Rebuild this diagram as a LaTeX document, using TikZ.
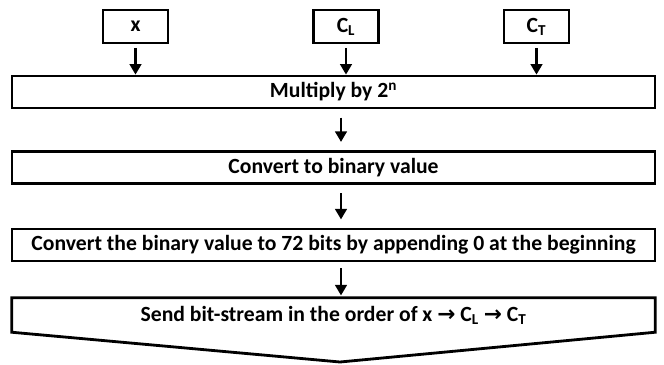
\documentclass[tikz,border=0pt]{standalone}
\usepackage{fontspec}
\setmainfont{Carlito}
\newfontfamily\arrowfont{DejaVu Sans}
\usetikzlibrary{arrows.meta}

\tikzset{
    inbox/.style={draw, line width=2.4pt, minimum width=65*0.03cm, minimum height=33*0.03cm, inner sep=0pt},
    stepbox/.style={draw, line width=2.4pt, minimum width=643*0.03cm, minimum height=32*0.03cm, inner sep=0pt},
    flow/.style={line width=2pt, -{Triangle[width=10pt,length=9pt]}}
}
\newcommand{\rarr}{{\arrowfont\bfseries\symbol{"2192}}}

\begin{document}
\begin{tikzpicture}[x=0.03cm, y=-0.03cm, font=\fontsize{18.5}{21}\selectfont\bfseries]

    \useasboundingbox (0,0) rectangle (664,365);

    % Inputs
    \node[inbox] (x) at (135.5,26.5) {x};
    \node[inbox] (cl) at (346,26.5) {C\textsubscript{L}};
    \node[inbox] (ct) at (536.5,26.5) {C\textsubscript{T}};

    % Processing steps
    \node[stepbox] (mult) at (333.5,92) {Multiply by 2\textsuperscript{n}};
    \node[stepbox] (bin) at (333.5,167.5) {Convert to binary value};
    \node[stepbox] (pad) at (333.5,245) {Convert the binary value to 72 bits by appending 0 at the beginning};

    % Output (arrow shaped box)
    \node[minimum width=643*0.03cm, minimum height=34*0.03cm, inner sep=0pt] (send) at (333.5,315) {Send bit-stream in the order of x \rarr\ C\textsubscript{L} \rarr\ C\textsubscript{T}};
    \coordinate (tip) at (340,362);
    \draw[line width=2.4pt, line join=miter] (send.north west) -- (send.north east) -- (send.south east) -- (tip) -- (send.south west) -- cycle;

    % Connectors
    \coordinate (axis) at (341,0);
    \draw[flow, shorten <=3pt] (x.south) -- (x.south |- mult.north);
    \draw[flow, shorten <=3pt] (cl.south) -- (cl.south |- mult.north);
    \draw[flow, shorten <=3pt] (ct.south) -- (ct.south |- mult.north);
    \draw[flow, shorten <=7pt, shorten >=7pt] (axis |- mult.south) -- (axis |- bin.north);
    \draw[flow, shorten <=7pt, shorten >=7pt] (axis |- bin.south) -- (axis |- pad.north);
    \draw[flow, shorten <=5pt, shorten >=2pt] (axis |- pad.south) -- (axis |- send.north);
\end{tikzpicture}
\end{document}
